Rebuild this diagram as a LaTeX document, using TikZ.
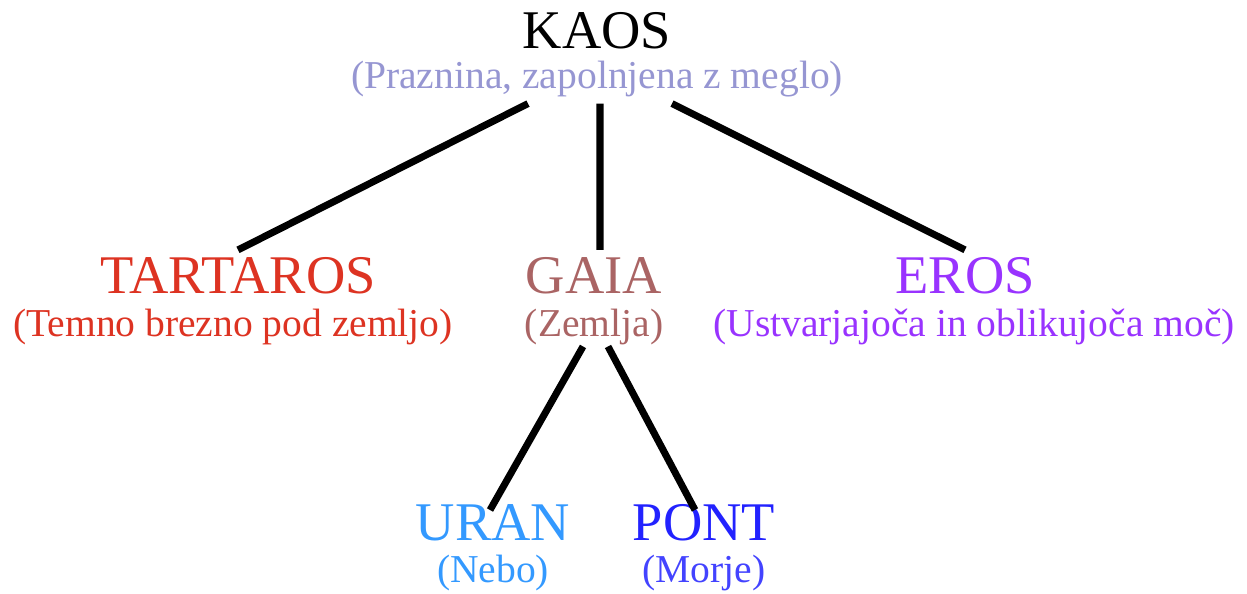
\documentclass[tikz,border=0pt]{standalone}
\usepackage{fontspec}
\setmainfont{Liberation Serif}
\usetikzlibrary{positioning}

\definecolor{kaosgloss}{RGB}{150,150,210}
\definecolor{tartarosred}{RGB}{221,51,34}
\definecolor{gaiabrown}{RGB}{170,100,100}
\definecolor{erospurple}{RGB}{153,51,255}
\definecolor{uranblue}{RGB}{51,153,255}
\definecolor{pontblue}{RGB}{34,34,255}

\tikzset{
  deity/.style = {inner sep=0pt, outer sep=4pt, anchor=base,
                  font=\fontsize{31}{36}\selectfont},
  gloss/.style = {inner sep=0pt, outer sep=4pt, anchor=base,
                  font=\fontsize{22.5}{27}\selectfont},
}

\begin{document}
\begin{tikzpicture} [x=0.02cm, y=-0.02cm]

\useasboundingbox (0,0) rectangle (1247,593);

\node (kaos)        [deity]                   at (597,48)  {KAOS};
\node (kaossub)     [gloss, kaosgloss]        at (597,88)  {(Praznina, zapolnjena z meglo)};
\node (tartaros)    [deity, tartarosred]      at (238,293) {TARTAROS};
\node (tartarossub) [gloss, tartarosred]      at (233,336) {(Temno brezno pod zemljo)};
\node (gaia)        [deity, gaiabrown]        at (594,293) {GAIA};
\node (gaiasub)     [gloss, gaiabrown]        at (594,336) {(Zemlja)};
\node (eros)        [deity, erospurple]       at (965,293) {EROS};
\node (erossub)     [gloss, erospurple]       at (974,336) {(Ustvarjajoča in oblikujoča moč)};
\node (uran)        [deity, uranblue]         at (493,540) {URAN};
\node (uransub)     [gloss, uranblue]         at (493,582) {(Nebo)};
\node (pont)        [deity, pontblue]         at (704,540) {PONT};
\node (pontsub)     [gloss, pontblue!85!white] at (704,582) {(Morje)};

\path [line width=4pt]
	([xshift=-1.38cm]kaossub.south) edge (tartaros.north)
	([xshift=0.06cm]kaossub.south)  edge ([xshift=0.12cm]gaia.north)
	([xshift=1.5cm]kaossub.south)   edge (eros.north)
	([xshift=-0.22cm, yshift=0.1cm]gaiasub.south) edge ([xshift=-0.06cm, yshift=-0.26cm]uran.north)
	([xshift=0.28cm, yshift=0.1cm]gaiasub.south)  edge ([xshift=-0.18cm, yshift=-0.26cm]pont.north);
\end{tikzpicture}
\end{document}
